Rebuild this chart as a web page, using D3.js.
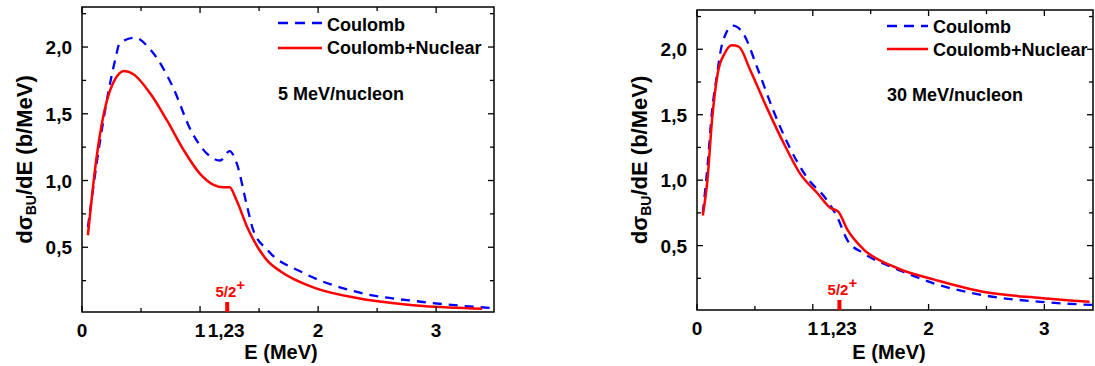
<!DOCTYPE html>
<html lang="en">
<head>
<meta charset="UTF-8">
<title>Breakup cross sections</title>
<script src="https://d3js.org/d3.v7.min.js"></script>
<style>
  body { margin: 0; background: #fff; }
  svg { display: block; }
  text { font-family: "Liberation Sans", Arial, sans-serif; font-weight: bold; fill: #000; }
  .frame { fill: none; stroke: #000; stroke-width: 1.5px; }
  .tick { stroke: #000; stroke-width: 1.3px; }
</style>
</head>
<body>
<svg width="1095" height="366"></svg>
<script>
// E (MeV) and dsigma/dE (b/MeV)
const leftCoulE  = [0.05, 0.15, 0.28, 0.32, 0.45, 0.58, 0.77, 0.92, 1.06, 1.17, 1.25, 1.31, 1.40, 1.45, 1.57, 1.87, 2.33, 2.89, 3.46];
const leftCoulY  = [0.65, 1.28, 1.90, 2.03, 2.07, 1.98, 1.70, 1.38, 1.20, 1.15, 1.22, 1.13, 0.80, 0.63, 0.48, 0.31, 0.165, 0.09, 0.045];
const leftNucE   = [0.05, 0.12, 0.24, 0.36, 0.43, 0.58, 0.72, 0.86, 1.00, 1.11, 1.20, 1.25, 1.31, 1.40, 1.57, 1.68, 1.99, 2.33, 2.89, 3.39];
const leftNucY   = [0.59, 1.15, 1.68, 1.82, 1.80, 1.65, 1.45, 1.23, 1.05, 0.97, 0.95, 0.95, 0.85, 0.65, 0.40, 0.32, 0.19, 0.12, 0.06, 0.04];

const rightCoulE = [0.05, 0.09, 0.13, 0.17, 0.22, 0.31, 0.40, 0.52, 0.66, 0.80, 0.95, 1.12, 1.21, 1.30, 1.44, 1.67, 1.78, 2.05, 2.48, 2.97, 3.43];
const rightCoulY = [0.75, 1.10, 1.53, 1.79, 2.05, 2.18, 2.12, 1.86, 1.53, 1.25, 1.02, 0.85, 0.72, 0.54, 0.44, 0.34, 0.30, 0.21, 0.12, 0.07, 0.046];
const rightNucE  = [0.05, 0.09, 0.13, 0.18, 0.24, 0.30, 0.36, 0.46, 0.60, 0.75, 0.89, 1.04, 1.15, 1.22, 1.30, 1.44, 1.67, 1.78, 2.05, 2.48, 2.97, 3.39];
const rightNucY  = [0.73, 1.00, 1.46, 1.82, 1.97, 2.03, 2.02, 1.84, 1.56, 1.28, 1.05, 0.90, 0.79, 0.76, 0.62, 0.47, 0.35, 0.31, 0.24, 0.145, 0.10, 0.07];

const xTicks = [0, 1, 2, 3];
const xTickLabels = ["0", "1", "2", "3"];
const xMinor = [0.5, 1.5, 2.5];
const yTicks = [0.5, 1.0, 1.5, 2.0];
const yTickLabels = ["0,5", "1,0", "1,5", "2,0"];
const yMinor = [0.25, 0.75, 1.25, 1.75, 2.25];
const resonanceE = 1.23;
const resonanceLabel = "1,23";
const seriesNames = ["Coulomb", "Coulomb+Nuclear"];
const energies = ["5 MeV/nucleon", "30 MeV/nucleon"];

const svg = d3.select("svg");

const panels = [
  { x0: 82, x1: 494, y0: 7, y1: 312, xMax: 3.49, yMin: 0.015, yMax: 2.3,
    coul: [leftCoulE, leftCoulY], nuc: [leftNucE, leftNucY],
    legendX: 278, legendLen: 44, legendY: [23, 48], textY: [31, 54, 100],
    energy: energies[0], yLabelX: 32, titleX: 281 },
  { x0: 697, x1: 1093, y0: 10, y1: 310, xMax: 3.42, yMin: 0.008, yMax: 2.3,
    coul: [rightCoulE, rightCoulY], nuc: [rightNucE, rightNucY],
    legendX: 887, legendLen: 41, legendY: [26, 49], textY: [33, 56, 101],
    energy: energies[1], yLabelX: 647, titleX: 889 }
];

panels.forEach(p => {
  const x = d3.scaleLinear().domain([0, p.xMax]).range([p.x0, p.x1]);
  const y = d3.scaleLinear().domain([p.yMin, p.yMax]).range([p.y1, p.y0]);
  const g = svg.append("g");

  const line = d3.line().x(d => x(d[0])).y(d => y(d[1])).curve(d3.curveMonotoneX);
  const pts = s => s[0].map((e, i) => [e, s[1][i]]);

  g.append("path").datum(pts(p.coul))
    .attr("d", line).attr("fill", "none")
    .attr("stroke", "#0000ff").attr("stroke-width", 2.3)
    .attr("stroke-dasharray", "9,7");
  g.append("path").datum(pts(p.nuc))
    .attr("d", line).attr("fill", "none")
    .attr("stroke", "#ff0000").attr("stroke-width", 2.5);

  // frame
  g.append("rect").attr("class", "frame")
    .attr("x", p.x0).attr("y", p.y0)
    .attr("width", p.x1 - p.x0).attr("height", p.y1 - p.y0);

  // ticks (inward, mirrored)
  const tk = (vals, len) => {
    vals.forEach(v => {
      g.append("line").attr("class", "tick")
        .attr("x1", x(v)).attr("x2", x(v)).attr("y1", p.y1).attr("y2", p.y1 - len);
      g.append("line").attr("class", "tick")
        .attr("x1", x(v)).attr("x2", x(v)).attr("y1", p.y0).attr("y2", p.y0 + len);
    });
  };
  tk(xTicks, 6); tk(xMinor, 4);
  const tky = (vals, len) => {
    vals.forEach(v => {
      g.append("line").attr("class", "tick")
        .attr("x1", p.x0).attr("x2", p.x0 + len).attr("y1", y(v)).attr("y2", y(v));
      g.append("line").attr("class", "tick")
        .attr("x1", p.x1).attr("x2", p.x1 - len).attr("y1", y(v)).attr("y2", y(v));
    });
  };
  tky(yTicks, 6); tky(yMinor, 4);

  // tick labels
  xTicks.forEach((v, i) => {
    g.append("text").attr("x", x(v)).attr("y", p.y1 + 25)
      .attr("text-anchor", "middle").style("font-size", "19px").text(xTickLabels[i]);
  });
  g.append("text").attr("x", x(resonanceE) - 1).attr("y", p.y1 + 25)
    .attr("text-anchor", "middle").style("font-size", "19px").text(resonanceLabel);
  yTicks.forEach((v, i) => {
    g.append("text").attr("x", p.x0 - 10).attr("y", y(v) + 7)
      .attr("text-anchor", "end").style("font-size", "19px").text(yTickLabels[i]);
  });

  // axis titles
  g.append("text").attr("x", p.titleX).attr("y", 359)
    .attr("text-anchor", "middle").style("font-size", "20px").text("E (MeV)");
  const yl = g.append("text")
    .attr("transform", `translate(${p.yLabelX},${(p.y0 + p.y1) / 2}) rotate(-90)`)
    .attr("text-anchor", "middle").style("font-size", "22px");
  yl.append("tspan").text("dσ");
  yl.append("tspan").attr("baseline-shift", "-25%").style("font-size", "14px").text("BU");
  yl.append("tspan").text("/dE (b/MeV)");

  // resonance marker
  g.append("line").attr("x1", x(resonanceE)).attr("x2", x(resonanceE))
    .attr("y1", p.y1).attr("y2", p.y1 - 10)
    .attr("stroke", "#ff0000").attr("stroke-width", 4);
  const rl = g.append("text").attr("x", x(resonanceE) + 3).attr("y", p.y1 - 15)
    .attr("text-anchor", "middle").style("font-size", "15px").style("fill", "#ff0000");
  rl.append("tspan").text("5/2");
  rl.append("tspan").attr("baseline-shift", "45%").style("font-size", "15px").text("+");

  // legend
  const lx = p.legendX, ll = p.legendLen;
  g.append("line").attr("x1", lx).attr("x2", lx + ll).attr("y1", p.legendY[0]).attr("y2", p.legendY[0])
    .attr("stroke", "#0000ff").attr("stroke-width", 2.3).attr("stroke-dasharray", "10,7");
  g.append("line").attr("x1", lx).attr("x2", lx + ll).attr("y1", p.legendY[1]).attr("y2", p.legendY[1])
    .attr("stroke", "#ff0000").attr("stroke-width", 2.5);
  g.append("text").attr("x", lx + ll + 5).attr("y", p.textY[0]).style("font-size", "18px").text(seriesNames[0]);
  g.append("text").attr("x", lx + ll + 5).attr("y", p.textY[1]).style("font-size", "18px").text(seriesNames[1]);
  g.append("text").attr("x", lx).attr("y", p.textY[2]).style("font-size", "18px").text(p.energy);
});
</script>
</body>
</html>
